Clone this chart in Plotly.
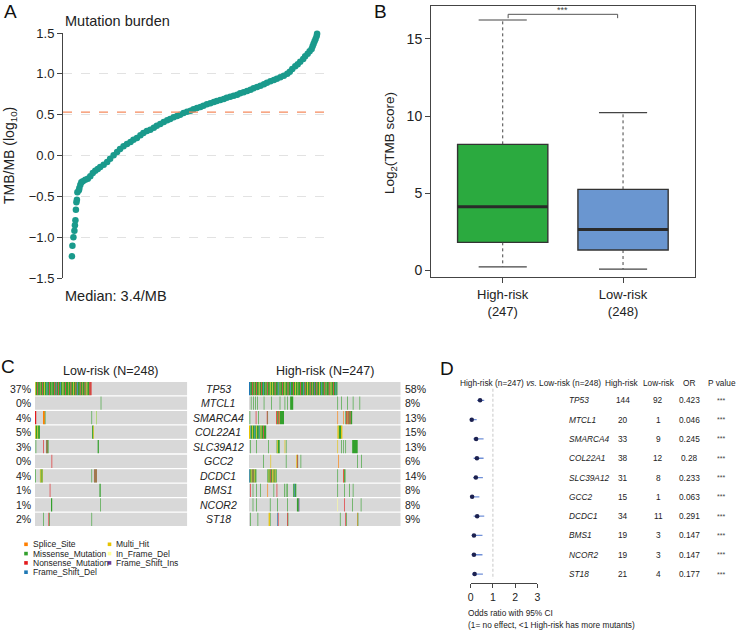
import math
import plotly.graph_objects as go

W, H = 736, 632
FONT = "Liberation Sans, Arial, Helvetica, sans-serif"
TXT = "#222222"


def px(x):
    return x / W


def py(y):
    return 1 - y / H


# ---------------- Panel A : mutation burden (sorted samples) ----------------
tmb_rank = [1, 2, 4, 6, 7, 8, 9, 10, 11, 12, 15, 16, 18, 20, 23, 28, 33, 38, 43, 48, 53, 58,
            65, 72, 78, 85, 92, 98, 105, 112, 119, 125, 132, 139, 145, 152, 159, 166, 172, 179,
            186, 193, 199, 206, 213, 219, 226, 233, 240, 246, 253, 260, 266, 273, 280, 287, 293,
            300, 307, 313, 320, 327, 334, 340, 347, 354, 361, 367, 374, 381, 388, 394, 401, 408,
            414, 421, 428, 435, 440, 445, 451, 456, 461, 467, 471, 476, 480, 484, 486, 488, 490,
            492, 494, 495]
tmb_log10 = [-1.235, -1.104, -1.002, -0.920, -0.855, -0.794, -0.663, -0.573, -0.541, -0.451,
             -0.427, -0.398, -0.357, -0.329, -0.316, -0.296, -0.284, -0.255, -0.214, -0.186,
             -0.165, -0.141, -0.112, -0.080, -0.039, 0.002, 0.043, 0.080, 0.112, 0.141, 0.165,
             0.194, 0.214, 0.247, 0.276, 0.300, 0.316, 0.341, 0.365, 0.386, 0.410, 0.431, 0.447,
             0.467, 0.484, 0.500, 0.520, 0.537, 0.549, 0.565, 0.582, 0.594, 0.610, 0.627, 0.639,
             0.655, 0.667, 0.680, 0.692, 0.708, 0.720, 0.733, 0.745, 0.761, 0.773, 0.790, 0.806,
             0.822, 0.839, 0.855, 0.871, 0.892, 0.908, 0.924, 0.941, 0.957, 0.978, 1.002, 1.027,
             1.059, 1.092, 1.116, 1.149, 1.182, 1.214, 1.247, 1.276, 1.304, 1.337, 1.369, 1.398,
             1.427, 1.459, 1.492]
median_tmb = 3.4
a_ticks = [-1.5, -1.0, -0.5, 0.0, 0.5, 1.0, 1.5]

# ---------------- Panel B : boxplot ----------------
box_groups = ["High-risk", "Low-risk"]
box_n = [247, 248]
box_lower = [0.21, 0.06]
box_q1 = [1.80, 1.30]
box_median = [4.11, 2.64]
box_q3 = [8.16, 5.24]
box_upper = [16.23, 10.22]
box_colors = ["#2BAA3F", "#6A96D0"]
b_ticks = [0, 5, 10, 15]

# ---------------- Panel C : oncoplot ----------------
genes = ["TP53", "MTCL1", "SMARCA4", "COL22A1", "SLC39A12", "GCC2", "DCDC1", "BMS1", "NCOR2", "ST18"]
n_low = 248
n_high = 247
mut_types = ["Splice_Site", "Missense_Mutation", "Nonsense_Mutation", "Frame_Shift_Del",
             "Multi_Hit", "In_Frame_Del", "Frame_Shift_Ins"]
mut_codes = ["S", "M", "N", "D", "H", "I", "P"]
mut_colors = ["#FF7F00", "#33A02C", "#E31A1C", "#1F78B4", "#E6C300", "#FFFF99", "#6A3D9A"]

low_tp53 = ("HMMMNMMMSMMM" "NMMHMMMDMMMN" "MMMSMMMNMMPM" "MMNMMDMMMHMM"
            "MNMMMMSMMMNM" "MMHMMMNMMDMM" "MNMMMSMMMNMM" "HMMMNMNN")
high_tp53 = ("DDMMMNMMSMMM" "NMMMHMMMNMMD" "MMMSMMNMMMHM" "MMHMMMNMMMMD"
             "MMSMMMNMMMHM" "MMMNMMMDMMMM" "NMMHMMMSMMMN" "MMMMDMMNMMMH"
             "MMMNMMMSMMPM" "MMNMMMHMMMDM" "MMNMMSMMMMNM" "MHMMMNMMMDMM")

# (first sample column, number of columns, mutation code)
low_other = {
    "MTCL1": [(107, 1, "M")],
    "SMARCA4": [(0, 2, "N"), (13, 3, "S"), (16, 1, "M"), (92, 1, "M"), (99, 1, "I"), (100, 1, "M")],
    "COL22A1": [(0, 1, "H"), (1, 3, "M"), (4, 1, "H"), (5, 3, "M"), (93, 2, "M"), (95, 1, "H")],
    "SLC39A12": [(1, 1, "M"), (13, 1, "N"), (18, 1, "M"), (19, 1, "N"), (20, 2, "M"), (102, 2, "M")],
    "GCC2": [(27, 1, "N")],
    "DCDC1": [(0, 1, "M"), (8, 1, "H"), (9, 2, "M"), (11, 1, "H"), (12, 1, "M"), (92, 1, "M"),
              (96, 1, "M"), (97, 1, "N"), (98, 1, "M"), (99, 1, "N"), (100, 1, "M")],
    "BMS1": [(24, 1, "N"), (105, 2, "M")],
    "NCOR2": [(26, 2, "M"), (106, 1, "M")],
    "ST18": [(13, 1, "M"), (22, 1, "N"), (23, 1, "M"), (92, 1, "M")],
}
high_other = {
    "MTCL1": [(3, 1, "M"), (7, 1, "M"), (10, 1, "M"), (13, 1, "M"), (24, 1, "M"), (36, 1, "M"),
              (50, 1, "M"), (58, 1, "M"), (62, 1, "M"), (67, 5, "M"), (144, 1, "M"), (150, 1, "M"),
              (160, 1, "M"), (169, 1, "M"), (180, 1, "M")],
    "SMARCA4": [(1, 1, "M"), (11, 1, "N"), (15, 1, "M"), (29, 1, "N"), (30, 1, "M"), (44, 1, "N"),
                (45, 1, "S"), (46, 2, "M"), (48, 1, "N"), (49, 1, "S"), (50, 2, "M"), (52, 5, "M"),
                (144, 1, "S"), (153, 1, "S"), (157, 1, "M"), (158, 1, "N"), (159, 1, "M"),
                (160, 1, "S"), (161, 1, "N"), (162, 2, "M"), (164, 1, "N"), (165, 3, "M")],
    "COL22A1": [(0, 2, "H"), (2, 1, "D"), (3, 2, "M"), (5, 1, "H"), (6, 3, "M"), (9, 1, "D"),
                (10, 2, "M"), (12, 1, "H"), (13, 3, "M"), (16, 1, "D"), (17, 2, "M"), (19, 1, "H"),
                (20, 3, "M"), (23, 1, "N"), (24, 4, "M"), (144, 2, "H"), (146, 4, "M"), (150, 2, "H")],
    "SLC39A12": [(2, 1, "M"), (12, 1, "M"), (31, 1, "M"), (45, 1, "M"), (46, 1, "H"), (47, 3, "M"),
                 (58, 1, "H"), (60, 1, "M"), (144, 1, "H"), (150, 1, "M"), (153, 1, "M"),
                 (157, 1, "M"), (168, 9, "M")],
    "GCC2": [(23, 1, "M"), (35, 1, "H"), (60, 1, "M"), (77, 1, "H"), (78, 1, "N"), (79, 1, "M"),
             (84, 1, "M"), (145, 1, "S"), (176, 1, "M"), (183, 1, "M")],
    "DCDC1": [(0, 1, "D"), (1, 2, "M"), (3, 1, "H"), (4, 2, "M"), (6, 1, "N"), (7, 2, "M"),
              (9, 1, "H"), (10, 2, "M"), (30, 2, "M"), (32, 1, "H"), (33, 2, "M"), (35, 1, "N"),
              (36, 2, "M"), (38, 1, "H"), (39, 1, "S"), (40, 2, "M"), (42, 1, "H"), (43, 2, "M"),
              (144, 1, "M"), (153, 1, "N"), (154, 1, "S"), (155, 2, "M")],
    "BMS1": [(2, 1, "N"), (6, 1, "M"), (12, 1, "M"), (18, 1, "M"), (30, 1, "S"), (40, 1, "M"),
             (45, 1, "N"), (57, 1, "M"), (60, 1, "M"), (62, 1, "M"), (72, 2, "M"), (74, 1, "D"),
             (75, 2, "M"), (144, 1, "M"), (155, 1, "M"), (163, 1, "M"), (169, 1, "M")],
    "NCOR2": [(6, 1, "M"), (12, 1, "M"), (34, 1, "M"), (46, 1, "M"), (62, 1, "M"), (78, 3, "M"),
              (81, 1, "P"), (144, 1, "I"), (155, 1, "N"), (168, 1, "M"), (182, 1, "M")],
    "ST18": [(2, 1, "M"), (14, 1, "M"), (32, 2, "H"), (34, 1, "M"), (46, 1, "D"), (47, 1, "N"),
             (62, 1, "N"), (63, 1, "M"), (148, 1, "M"), (157, 1, "N"), (158, 1, "M"),
             (176, 1, "S"), (177, 1, "M")],
}

# ---------------- Panel D : forest / table ----------------
mut_high = [144, 20, 33, 38, 31, 15, 34, 19, 19, 21]
mut_low = [92, 1, 9, 12, 8, 1, 11, 3, 3, 4]
odds_ratio = [0.423, 0.046, 0.245, 0.28, 0.233, 0.063, 0.291, 0.147, 0.147, 0.177]
or_ci_low = [0.29, 0.006, 0.12, 0.13, 0.11, 0.008, 0.13, 0.04, 0.04, 0.06]
or_ci_high = [0.61, 0.27, 0.58, 0.58, 0.55, 0.39, 0.61, 0.53, 0.53, 0.55]
p_labels = ["***"] * 10
d_ticks = [0, 1, 2, 3]

fig = go.Figure()


def ann(x, y, text, size, xref="paper", yref="paper", xanchor="center", yanchor="middle",
        color=TXT, **kw):
    fig.add_annotation(x=x, y=y, xref=xref, yref=yref, text=text, showarrow=False,
                       xanchor=xanchor, yanchor=yanchor,
                       font=dict(size=size, color=color, family=FONT), **kw)


# ===== Panel A =====
fig.add_trace(go.Scatter(x=tmb_rank, y=tmb_log10, mode="markers",
                         marker=dict(color="#1A9A8C", size=6.5, line=dict(width=0)),
                         cliponaxis=False, xaxis="x", yaxis="y", showlegend=False))
fig.add_shape(type="line", xref="x domain", x0=0, x1=1, yref="y",
              y0=math.log10(median_tmb), y1=math.log10(median_tmb),
              line=dict(color="#F58A5E", width=1.2, dash="dash"))

# ===== Panel B =====
for i, g in enumerate(box_groups):
    xc = i + 1
    fig.add_trace(go.Box(x=[xc], q1=[box_q1[i]], median=[box_median[i]], q3=[box_q3[i]],
                         lowerfence=[box_q1[i]], upperfence=[box_q3[i]], width=0.75,
                         fillcolor=box_colors[i], line=dict(color="#333333", width=1.4),
                         boxpoints=False, hoverinfo="skip",
                         xaxis="x2", yaxis="y2", showlegend=False))
    fig.add_trace(go.Scatter(x=[xc, xc, None, xc, xc],
                             y=[box_q3[i], box_upper[i], None, box_q1[i], box_lower[i]],
                             mode="lines", line=dict(color="#444444", width=1, dash="3px,3px"),
                             xaxis="x2", yaxis="y2", showlegend=False, hoverinfo="skip"))
    fig.add_trace(go.Scatter(x=[xc - 0.2, xc + 0.2, None, xc - 0.2, xc + 0.2],
                             y=[box_upper[i], box_upper[i], None, box_lower[i], box_lower[i]],
                             mode="lines", line=dict(color="#444444", width=1.2),
                             xaxis="x2", yaxis="y2", showlegend=False, hoverinfo="skip"))
    fig.add_trace(go.Scatter(x=[xc - 0.375, xc + 0.375], y=[box_median[i], box_median[i]],
                             mode="lines", line=dict(color="#2A2A2A", width=3),
                             xaxis="x2", yaxis="y2", showlegend=False, hoverinfo="skip"))
fig.add_trace(go.Scatter(x=[1.045, 1.045, 1.955, 1.955], y=[16.35, 16.6, 16.6, 16.35],
                         mode="lines", line=dict(color="#555555", width=1),
                         xaxis="x2", yaxis="y2", showlegend=False, hoverinfo="skip"))
ann(1.5, 16.6, "***", 9, xref="x2", yref="y2", yanchor="bottom", color="#444444", yshift=-3)


# ===== Panel C =====
def add_oncoplot(tp53_codes, other, ncol, xa, ya):
    gap = 0.045
    bx, by = [], []
    for r in range(len(genes)):
        y0, y1 = r + gap, r + 1 - gap
        bx += [0, ncol, ncol, 0, 0, None]
        by += [y0, y0, y1, y1, y0, None]
    fig.add_trace(go.Scatter(x=bx, y=by, mode="lines", fill="toself", fillcolor="#D8D8D8",
                             line=dict(width=0, color="#D8D8D8"), xaxis=xa, yaxis=ya,
                             showlegend=False, hoverinfo="skip"))
    segs = {c: [] for c in mut_codes}
    for j, c in enumerate(tp53_codes):
        segs[c].append((0, j, 1))
    for r, gname in enumerate(genes[1:], start=1):
        for (start, length, c) in other[gname]:
            segs[c].append((r, start, length))
    for c, col in zip(mut_codes, mut_colors):
        xs, ys = [], []
        for (r, start, length) in segs[c]:
            y0, y1 = r + gap, r + 1 - gap
            xs += [start, start + length, start + length, start, start, None]
            ys += [y0, y0, y1, y1, y0, None]
        if xs:
            fig.add_trace(go.Scatter(x=xs, y=ys, mode="lines", fill="toself", fillcolor=col,
                                     line=dict(width=0, color=col), xaxis=xa, yaxis=ya,
                                     showlegend=False, hoverinfo="skip"))


add_oncoplot(low_tp53, low_other, n_low, "x3", "y3")
add_oncoplot(high_tp53, high_other, n_high, "x4", "y4")

for r, gname in enumerate(genes):
    pl = round(100 * mut_low[r] / n_low)
    ph = round(100 * mut_high[r] / n_high)
    ann(px(32.5), r + 0.5, f"{pl}%", 10.5, yref="y3", xanchor="right")
    ann(px(403), r + 0.5, f"{ph}%", 10.5, yref="y3", xanchor="left")
    ann(px(218), r + 0.5, f"<i>{gname}</i>", 10.5, yref="y3")

ann(px(111), py(371), f"Low-risk (N={n_low})", 12.5)
ann(px(325), py(371), f"High-risk (N={n_high})", 12.5)

leg_pos = [(26, 544.3), (26, 553.6), (26, 562.9), (26, 572.2), (109.5, 544.3), (109.5, 553.6),
           (109.5, 562.9)]
for k, (lx, ly) in enumerate(leg_pos):
    fig.add_shape(type="rect", xref="paper", yref="paper",
                  x0=px(lx - 1.8), x1=px(lx + 1.8), y0=py(ly + 1.8), y1=py(ly - 1.8),
                  fillcolor=mut_colors[k], line=dict(width=0))
    ann(px(lx + 4.5), py(ly), mut_types[k], 8.5, xanchor="left")

# ===== Panel D =====
rows = list(range(len(genes)))
ci_x, ci_y = [], []
for r in rows:
    ci_x += [or_ci_low[r], or_ci_high[r], None]
    ci_y += [r, r, None]
fig.add_shape(type="line", xref="x5", yref="y5", x0=1, x1=1, y0=-0.6, y1=9.25,
              line=dict(color="#BBBBBB", width=0.8, dash="3px,2px"))
fig.add_trace(go.Scatter(x=ci_x, y=ci_y, mode="lines", line=dict(color="#7090D8", width=1.3),
                         xaxis="x5", yaxis="y5", showlegend=False, hoverinfo="skip"))
fig.add_trace(go.Scatter(x=odds_ratio, y=rows, mode="markers", cliponaxis=False,
                         marker=dict(color="#1C2150", size=4.5),
                         xaxis="x5", yaxis="y5", showlegend=False, hoverinfo="skip"))

DS = 8.3
ann(px(458), py(383.3), f"High-risk (n={n_high}) <i>vs.</i> Low-risk (n={n_low})", DS,
    xanchor="left")
for hx, ht in [(622, "High-risk"), (659, "Low-risk"), (688.7, "OR"), (722, "P value")]:
    ann(px(hx), py(383.3), ht, DS)
for r in rows:
    ann(px(567), r, f"<i>{genes[r]}</i>", DS, yref="y5", xanchor="left")
    ann(px(623.3), r, str(mut_high[r]), DS, yref="y5")
    ann(px(658), r, str(mut_low[r]), DS, yref="y5")
    ann(px(689), r, f"{odds_ratio[r]:g}", DS, yref="y5")
    ann(px(720.5), r, p_labels[r], 7, yref="y5", color="#444444")
ann(px(466), py(613.3), "Odds ratio with 95% CI", DS, xanchor="left")
ann(px(466), py(625), "(1= no effect, &lt;1 High-risk has more mutants)", DS, xanchor="left")

# ===== Panel labels & texts =====
for lab, lx, ly in [("A", 10, 12), ("B", 380, 12), ("C", 8, 366), ("D", 447, 368)]:
    ann(px(lx), py(ly), lab, 19, color="#111111")
ann(px(63), py(21), "Mutation burden", 14.5, xanchor="left")
ann(px(63), py(296), f"Median: {median_tmb}/MB", 14.5, xanchor="left")
ann(px(10), py(156), "TMB/MB (log<sub>10</sub>)", 14, textangle=-90)
ann(px(390), py(143), "Log<sub>2</sub>(TMB score)", 13.5, textangle=-90)

axis_common = dict(showgrid=False, zeroline=False, automargin=False)
fig.update_layout(
    template="none",
    width=W, height=H, margin=dict(l=0, r=0, t=0, b=0, pad=0), autosize=False,
    paper_bgcolor="white", plot_bgcolor="white",
    font=dict(family=FONT, color=TXT),
    showlegend=False,
    xaxis=dict(domain=[px(63), px(328)], range=[-17, 517], visible=False, **axis_common),
    yaxis=dict(domain=[py(278), py(33)], range=[-1.5, 1.5], tickvals=a_ticks,
               tickformat=".1f", showgrid=True, gridcolor="#E2E2E2", griddash="dash",
               gridwidth=1, zeroline=False, showline=True, linecolor="#444444", linewidth=1,
               ticks="outside", ticklen=5, tickcolor="#444444", tickfont=dict(size=13),
               anchor="x", automargin=False),
    xaxis2=dict(domain=[px(431), px(695)], range=[0.404, 2.598], tickvals=[1, 2],
                ticktext=[f"{g}<br>({n})" for g, n in zip(box_groups, box_n)],
                ticks="outside", ticklen=5, tickcolor="#444444", showline=True, mirror=True,
                linecolor="#444444", linewidth=1, tickfont=dict(size=13), anchor="y2",
                **axis_common),
    yaxis2=dict(domain=[py(277), py(6)], range=[-0.45, 17.14], tickvals=b_ticks,
                ticks="outside", ticklen=5, tickcolor="#444444", showline=True, mirror=True,
                linecolor="#444444", linewidth=1, tickfont=dict(size=14), anchor="x2",
                **axis_common),
    xaxis3=dict(domain=[px(35), px(187.3)], range=[0, n_low], visible=False, anchor="y3",
                **axis_common),
    yaxis3=dict(domain=[py(526.7), py(381.3)], range=[10, 0], visible=False, anchor="x3",
                **axis_common),
    xaxis4=dict(domain=[px(249), px(400.7)], range=[0, n_high], visible=False, anchor="y4",
                **axis_common),
    yaxis4=dict(domain=[py(526.7), py(381.3)], range=[10, 0], visible=False, anchor="x4",
                **axis_common),
    xaxis5=dict(domain=[px(470.7), px(537.3)], range=[0, 3], tickvals=d_ticks, ticks="outside",
                ticklen=4, tickcolor="#444444", showline=True, linecolor="#444444",
                linewidth=1, tickfont=dict(size=10.5), anchor="y5", **axis_common),
    yaxis5=dict(domain=[py(583.3), py(388)], range=[9.48, -0.64], visible=False, anchor="x5",
                **axis_common),
)

fig.write_html("out.html", config={"displayModeBar": False},
               post_script="document.body.style.margin='0px';"
                           "document.body.style.overflow='hidden';")
